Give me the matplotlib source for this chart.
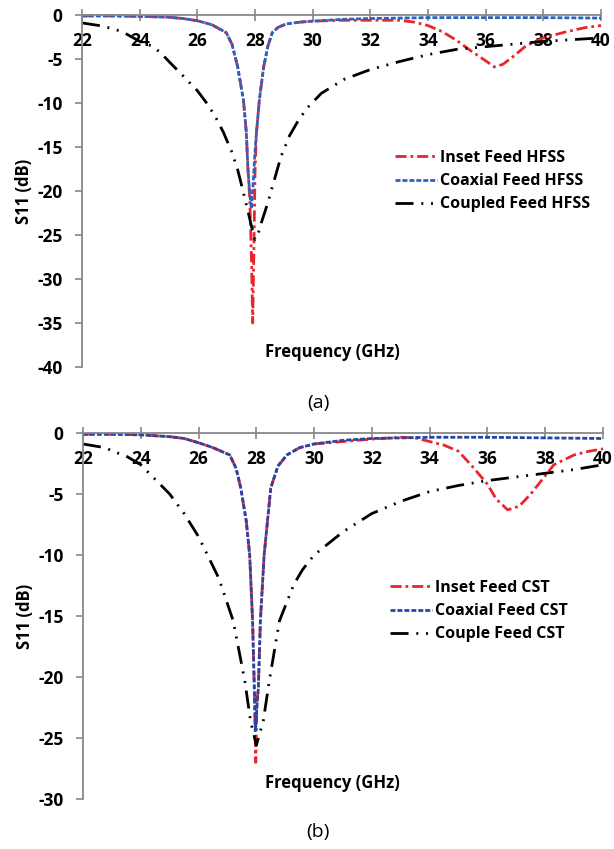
import matplotlib
matplotlib.use("Agg")
import matplotlib.pyplot as plt

plt.rcParams['font.family'] = ['Open Sans', 'DejaVu Sans']
plt.rcParams['axes.unicode_minus'] = False

# ---- (a) HFSS results ----
f_inset_hfss = [22, 23, 24, 25, 25.5, 26, 26.5, 27, 27.2, 27.4, 27.5, 27.6, 27.7, 27.75,
                27.82, 27.88, 27.92, 27.96, 28.0, 28.05, 28.15, 28.3, 28.45, 28.6, 28.8,
                29.1, 29.6, 30, 31, 32, 33, 33.5, 34, 34.5, 35, 35.5, 36, 36.3, 36.6,
                37, 37.4, 38, 38.8, 39.5, 40]
s_inset_hfss = [-0.1, -0.1, -0.15, -0.25, -0.4, -0.65, -1.1, -2.0, -3.3, -5.9, -7.8, -9.7,
                -13.4, -17.2, -21, -28, -35, -27, -18, -13.4, -9.7, -5.9, -3.5, -2.0, -1.4,
                -1.0, -0.8, -0.7, -0.6, -0.6, -0.6, -0.8, -1.2, -1.9, -2.9, -4.1, -5.2,
                -5.9, -5.6, -4.6, -3.5, -2.6, -1.9, -1.4, -1.2]

f_coax_hfss = [22, 23, 24, 25, 25.5, 26, 26.5, 27, 27.2, 27.4, 27.5, 27.6, 27.7, 27.75,
               27.8, 27.87, 27.93, 28.0, 28.05, 28.15, 28.3, 28.45, 28.6, 28.8, 29.1,
               29.6, 30, 31, 32, 34, 36, 38, 40]
s_coax_hfss = [-0.1, -0.1, -0.15, -0.25, -0.4, -0.65, -1.1, -2.0, -3.3, -5.9, -7.8, -9.7,
               -13.4, -17.2, -19.5, -22, -19.5, -15.5, -13.4, -9.7, -5.9, -3.5, -2.0, -1.4,
               -1.0, -0.8, -0.7, -0.5, -0.4, -0.3, -0.3, -0.3, -0.35]

f_coupled_hfss = [22, 22.7, 23.1, 23.4, 24, 24.4, 24.7, 25.05, 25.5, 26, 26.3, 26.6, 26.9,
                  27.2, 27.4, 27.6, 27.77, 27.9, 28.0, 28.07, 28.2, 28.35, 28.5, 28.7,
                  28.9, 29.2, 29.5, 29.8, 30.3, 31.1, 32, 33, 34, 35, 36, 37, 38, 39, 40]
s_coupled_hfss = [-0.9, -1.25, -1.6, -1.9, -3.0, -3.5, -4.2, -5.4, -6.9, -8.6, -9.9, -11.4,
                  -13.3, -15.6, -17.6, -20.2, -22.5, -24.3, -25.5, -25.3, -23.8, -22.3,
                  -20.7, -18.4, -16.1, -13.7, -12.0, -10.6, -8.9, -7.3, -6.2, -5.3, -4.5,
                  -3.9, -3.6, -3.3, -3.0, -2.8, -2.6]

# ---- (b) CST results ----
f_inset_cst = [22, 23, 24, 25, 25.5, 26, 26.5, 27.08, 27.3, 27.46, 27.65, 27.77, 27.87,
               27.93, 27.98, 28.02, 28.07, 28.14, 28.27, 28.5, 28.75, 29.06, 29.5, 30,
               31, 32, 33, 33.5, 34, 34.5, 35, 35.5, 36, 36.3, 36.7, 37.1, 37.5, 38,
               38.3, 39, 39.5, 40]
s_inset_cst = [-0.1, -0.1, -0.15, -0.3, -0.45, -0.8, -1.2, -1.8, -2.9, -4.5, -7.2, -10,
               -15.4, -20.9, -27, -22, -20.9, -15.4, -10, -4.5, -2.7, -1.8, -1.2, -0.9,
               -0.7, -0.5, -0.35, -0.4, -0.7, -1.0, -1.5, -2.8, -4.2, -5.4, -6.3, -6.0,
               -5.0, -3.5, -2.6, -1.8, -1.5, -1.3]

f_coax_cst = [22, 23, 24, 25, 25.5, 26, 26.5, 27.08, 27.3, 27.46, 27.65, 27.77, 27.87,
              27.93, 27.97, 28.02, 28.07, 28.14, 28.27, 28.5, 28.75, 29.06, 29.5, 30,
              31, 32, 34, 36, 38, 40]
s_coax_cst = [-0.1, -0.1, -0.15, -0.3, -0.45, -0.8, -1.2, -1.8, -2.9, -4.5, -7.2, -10,
              -15.4, -20.9, -24.4, -22.5, -20.9, -15.4, -10, -4.5, -2.7, -1.8, -1.2, -0.9,
              -0.6, -0.45, -0.35, -0.35, -0.4, -0.45]

f_couple_cst = [22, 22.75, 23.15, 23.5, 24, 24.5, 25, 25.5, 26, 26.7, 27.2, 27.6, 27.8,
                28.0, 28.24, 28.45, 28.8, 29.3, 29.6, 30, 31, 32, 33, 34, 35, 36, 37, 38,
                39, 40]
s_couple_cst = [-0.9, -1.2, -1.6, -1.9, -2.6, -3.8, -5.0, -6.6, -8.5, -11.9, -15.4, -20.3,
                -23.6, -25.6, -23.6, -20.3, -15.4, -12.4, -11.2, -10.0, -8.1, -6.6, -5.6,
                -4.8, -4.3, -3.9, -3.6, -3.3, -3.0, -2.6]

freq_ticks = [22, 24, 26, 28, 30, 32, 34, 36, 38, 40]

RED = '#e8262d'
BLUE_A = '#2b62c0'
BLUE_B = '#2446a8'
AXIS_GRAY = '#888888'

W, H = 614, 849
fig = plt.figure(figsize=(W / 100, H / 100), dpi=100)


def px_axes(left, right, top, bottom):
    return fig.add_axes([left / W, 1 - bottom / H, (right - left) / W, (bottom - top) / H])


def style_axes(ax, ymin, ystep):
    ax.set_xlim(22, 40)
    ax.set_ylim(ymin, 0)
    ax.set_yticks(list(range(ymin, 1, ystep)))
    ax.set_xticks(freq_ticks)
    for side in ('right', 'bottom'):
        ax.spines[side].set_visible(False)
    for side in ('left', 'top'):
        ax.spines[side].set_color(AXIS_GRAY)
        ax.spines[side].set_linewidth(1.3)
    ax.tick_params(axis='x', top=True, bottom=False, labeltop=True, labelbottom=False,
                   direction='inout', length=8, width=1.2, color=AXIS_GRAY, pad=-29,
                   labelsize=12.5)
    ax.tick_params(axis='y', direction='out', length=5, width=1.2, color=AXIS_GRAY,
                   pad=9, labelsize=12.5)
    for lab in ax.get_xticklabels() + ax.get_yticklabels():
        lab.set_fontweight('bold')
    ax.set_ylabel('S11 (dB)', fontsize=12, fontweight='bold', labelpad=3)
    ax.patch.set_alpha(0)


def draw_panel(ax, series, leg_anchor):
    for f, s, color, dashes, lw, label in series:
        ax.plot(f, s, color=color, lw=lw, dashes=dashes, label=label, clip_on=False)
    leg = ax.legend(loc='upper left', bbox_to_anchor=leg_anchor, bbox_transform=fig.transFigure,
                    frameon=False, fontsize=11.5, handlelength=2.6, handletextpad=0.2,
                    labelspacing=0.45, borderaxespad=0, borderpad=0)
    for t in leg.get_texts():
        t.set_fontweight('bold')


dash_red = (4, 1.4, 1, 1.4)
dash_blue = (1.8, 0.7)
dash_black = (6.5, 2.8, 0.7, 2.8, 0.7, 2.8)

# panel (a)
ax_a = px_axes(82, 601, 15, 367)
style_axes(ax_a, -40, 5)
draw_panel(ax_a, [
    (f_inset_hfss, s_inset_hfss, RED, dash_red, 2.0, 'Inset Feed HFSS'),
    (f_coax_hfss, s_coax_hfss, BLUE_A, dash_blue, 2.0, 'Coaxial Feed HFSS'),
    (f_coupled_hfss, s_coupled_hfss, 'black', dash_black, 2.0, 'Coupled Feed HFSS'),
], (395 / W, 1 - 150 / H))
fig.text(332 / W, 1 - 352 / H, 'Frequency (GHz)', ha='center', va='center',
         fontsize=12, fontweight='bold')
fig.text(318 / W, 1 - 403 / H, '(a)', ha='center', va='center', fontsize=14)

# panel (b)
ax_b = px_axes(83, 603, 433, 799)
style_axes(ax_b, -30, 5)
draw_panel(ax_b, [
    (f_inset_cst, s_inset_cst, RED, dash_red, 2.0, 'Inset Feed CST'),
    (f_coax_cst, s_coax_cst, BLUE_B, dash_blue, 2.0, 'Coaxial Feed CST'),
    (f_couple_cst, s_couple_cst, 'black', dash_black, 2.0, 'Couple Feed CST'),
], (390 / W, 1 - 580 / H))
fig.text(332 / W, 1 - 783 / H, 'Frequency (GHz)', ha='center', va='center',
         fontsize=12, fontweight='bold')
fig.text(318 / W, 1 - 832 / H, '(b)', ha='center', va='center', fontsize=14)

fig.savefig('out.png', dpi=100)
